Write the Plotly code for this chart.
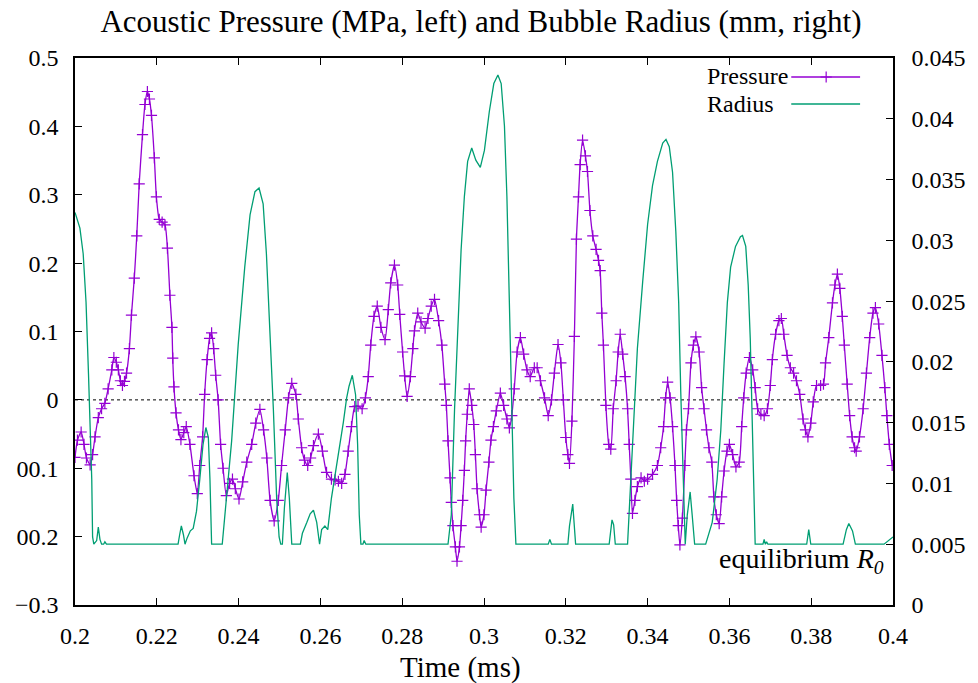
import plotly.graph_objects as go

# ---------------- data ----------------
p_time = [0.2000, 0.2006, 0.2015, 0.2022, 0.2028, 0.2037, 0.2043, 0.2049, 0.2057, 0.2065,
          0.2073, 0.2081, 0.2090, 0.2095, 0.2101, 0.2106, 0.2111, 0.2116, 0.2121, 0.2126,
          0.2133, 0.2138, 0.2145, 0.2151, 0.2157, 0.2165, 0.2171, 0.2177, 0.2182, 0.2187,
          0.2194, 0.2199, 0.2206, 0.2213, 0.2220, 0.2226, 0.2232, 0.2237, 0.2239, 0.2242,
          0.2247, 0.2253, 0.2259, 0.2266, 0.2272, 0.2281, 0.2291, 0.2299, 0.2305, 0.2312,
          0.2317, 0.2323, 0.2329, 0.2334, 0.2339, 0.2344, 0.2350, 0.2356, 0.2362, 0.2370,
          0.2378, 0.2385, 0.2392, 0.2401, 0.2410, 0.2420, 0.2432, 0.2442, 0.2452, 0.2461,
          0.2469, 0.2477, 0.2487, 0.2497, 0.2505, 0.2514, 0.2522, 0.2530, 0.2540, 0.2546,
          0.2554, 0.2561, 0.2569, 0.2576, 0.2583, 0.2595, 0.2605, 0.2615, 0.2627, 0.2636,
          0.2644, 0.2652, 0.2660, 0.2668, 0.2676, 0.2684, 0.2692, 0.2702, 0.2710, 0.2717,
          0.2723, 0.2731, 0.2739, 0.2748, 0.2758, 0.2766, 0.2772, 0.2781, 0.2789, 0.2794,
          0.2801, 0.2806, 0.2812, 0.2820, 0.2826, 0.2830, 0.2838, 0.2846, 0.2856, 0.2863,
          0.2871, 0.2879, 0.2889, 0.2897, 0.2904, 0.2908, 0.2912, 0.2917, 0.2920, 0.2924,
          0.2930, 0.2934, 0.2940, 0.2944, 0.2948, 0.2952, 0.2955, 0.2959, 0.2964, 0.2970,
          0.2975, 0.2979, 0.2983, 0.2989, 0.2993, 0.3000, 0.3005, 0.3012, 0.3017, 0.3023,
          0.3030, 0.3040, 0.3048, 0.3056, 0.3062, 0.3068, 0.3074, 0.3081, 0.3089, 0.3097,
          0.3105, 0.3113, 0.3123, 0.3130, 0.3138, 0.3148, 0.3157, 0.3165, 0.3172, 0.3181,
          0.3188, 0.3194, 0.3200, 0.3205, 0.3209, 0.3215, 0.3221, 0.3226, 0.3231, 0.3235,
          0.3241, 0.3248, 0.3253, 0.3259, 0.3266, 0.3274, 0.3280, 0.3284, 0.3288, 0.3292,
          0.3298, 0.3305, 0.3310, 0.3316, 0.3323, 0.3328, 0.3333, 0.3339, 0.3345, 0.3351,
          0.3355, 0.3359, 0.3363, 0.3369, 0.3375, 0.3384, 0.3392, 0.3400, 0.3412, 0.3424,
          0.3432, 0.3439, 0.3444, 0.3449, 0.3455, 0.3461, 0.3467, 0.3471, 0.3475, 0.3479,
          0.3485, 0.3491, 0.3495, 0.3500, 0.3506, 0.3512, 0.3518, 0.3526, 0.3532, 0.3538,
          0.3544, 0.3550, 0.3557, 0.3562, 0.3568, 0.3575, 0.3581, 0.3587, 0.3594, 0.3600,
          0.3608, 0.3616, 0.3624, 0.3630, 0.3635, 0.3641, 0.3649, 0.3657, 0.3663, 0.3669,
          0.3677, 0.3685, 0.3693, 0.3700, 0.3705, 0.3713, 0.3721, 0.3727, 0.3733, 0.3741,
          0.3749, 0.3757, 0.3764, 0.3772, 0.3780, 0.3786, 0.3792, 0.3799, 0.3805, 0.3813,
          0.3823, 0.3830, 0.3835, 0.3843, 0.3852, 0.3858, 0.3864, 0.3870, 0.3876, 0.3881,
          0.3888, 0.3894, 0.3900, 0.3906, 0.3910, 0.3918, 0.3927, 0.3935, 0.3943, 0.3951,
          0.3957, 0.3965, 0.3973, 0.3980, 0.3985, 0.3991, 0.3998]

pressure = [-0.084, -0.059, -0.047, -0.065, -0.085, -0.095, -0.080, -0.054, -0.026, -0.013,
            -0.005, 0.016, 0.044, 0.062, 0.055, 0.044, 0.028, 0.021, 0.027, 0.039,
            0.075, 0.124, 0.178, 0.240, 0.316, 0.388, 0.432, 0.451, 0.440, 0.416,
            0.354, 0.297, 0.264, 0.260, 0.256, 0.222, 0.153, 0.106, 0.061, 0.019,
            -0.019, -0.044, -0.058, -0.048, -0.039, -0.065, -0.111, -0.137, -0.096, -0.054,
            0.008, 0.059, 0.090, 0.098, 0.075, 0.036, 0.000, -0.065, -0.100, -0.140,
            -0.122, -0.116, -0.130, -0.145, -0.120, -0.091, -0.065, -0.034, -0.014, -0.044,
            -0.085, -0.147, -0.177, -0.147, -0.096, -0.044, 0.003, 0.024, 0.008, -0.028,
            -0.070, -0.088, -0.096, -0.085, -0.067, -0.050, -0.075, -0.106, -0.116, -0.117,
            -0.119, -0.122, -0.109, -0.075, -0.039, -0.010, -0.009, -0.013, 0.003, 0.034,
            0.080, 0.122, 0.137, 0.106, 0.088, 0.132, 0.171, 0.197, 0.168, 0.125,
            0.070, 0.035, 0.005, 0.034, 0.075, 0.101, 0.127, 0.114, 0.105, 0.119,
            0.137, 0.147, 0.116, 0.080, 0.023, -0.008, -0.060, -0.114, -0.150, -0.184,
            -0.215, -0.236, -0.215, -0.184, -0.147, -0.103, -0.060, -0.021, 0.016, -0.008,
            -0.036, -0.080, -0.130, -0.168, -0.186, -0.168, -0.132, -0.091, -0.059, -0.039,
            -0.016, 0.010, -0.008, -0.028, -0.041, -0.023, 0.016, 0.070, 0.091, 0.067,
            0.044, 0.034, 0.047, 0.047, 0.028, 0.003, -0.023, 0.000, 0.039, 0.081,
            0.054, 0.000, -0.055, -0.080, -0.093, -0.031, 0.093, 0.235, 0.297, 0.344,
            0.380, 0.357, 0.334, 0.277, 0.240, 0.220, 0.204, 0.189, 0.127, 0.080,
            -0.008, -0.065, -0.072, -0.013, 0.028, 0.070, 0.096, 0.067, 0.034, -0.013,
            -0.065, -0.116, -0.166, -0.147, -0.127, -0.114, -0.119, -0.116, -0.109, -0.096,
            -0.070, -0.039, 0.003, 0.026, 0.003, -0.039, -0.096, -0.147, -0.184, -0.212,
            -0.173, -0.096, -0.044, -0.013, 0.054, 0.080, 0.092, 0.070, 0.018, -0.013,
            -0.044, -0.070, -0.091, -0.142, -0.168, -0.181, -0.142, -0.104, -0.075, -0.065,
            -0.080, -0.098, -0.091, -0.039, 0.003, 0.039, 0.062, 0.044, 0.018, -0.013,
            -0.021, -0.023, -0.013, 0.021, 0.059, 0.096, 0.116, 0.119, 0.096, 0.065,
            0.047, 0.039, 0.028, 0.008, -0.028, -0.044, -0.054, -0.034, -0.003, 0.021,
            0.021, 0.023, 0.054, 0.091, 0.142, 0.168, 0.184, 0.163, 0.122, 0.080,
            0.023, -0.023, -0.054, -0.070, -0.075, -0.054, -0.013, 0.039, 0.091, 0.127,
            0.135, 0.111, 0.065, 0.018, -0.023, -0.065, -0.096]

r_time = [0.2000, 0.2012, 0.2020, 0.2027, 0.2033, 0.2037, 0.2041, 0.2043, 0.2046, 0.2053,
          0.2057, 0.2061, 0.2065, 0.2070, 0.2073, 0.2077, 0.2252, 0.2256, 0.2260, 0.2265,
          0.2269, 0.2274, 0.2282, 0.2289, 0.2297, 0.2305, 0.2313, 0.2320, 0.2326, 0.2330,
          0.2334, 0.2360, 0.2370, 0.2383, 0.2399, 0.2415, 0.2428, 0.2440, 0.2450, 0.2460,
          0.2468, 0.2477, 0.2485, 0.2493, 0.2499, 0.2503, 0.2507, 0.2512, 0.2519, 0.2524,
          0.2530, 0.2551, 0.2556, 0.2567, 0.2575, 0.2583, 0.2591, 0.2598, 0.2603, 0.2611,
          0.2618, 0.2627, 0.2644, 0.2656, 0.2664, 0.2670, 0.2678, 0.2686, 0.2691, 0.2695,
          0.2699, 0.2704, 0.2707, 0.2711, 0.2912, 0.2920, 0.2928, 0.2936, 0.2944, 0.2952,
          0.2960, 0.2970, 0.2980, 0.2991, 0.3001, 0.3013, 0.3024, 0.3034, 0.3042, 0.3050,
          0.3056, 0.3062, 0.3068, 0.3073, 0.3078, 0.3157, 0.3161, 0.3165, 0.3205, 0.3209,
          0.3217, 0.3224, 0.3306, 0.3310, 0.3313, 0.3317, 0.3321, 0.3351, 0.3359, 0.3367,
          0.3375, 0.3388, 0.3400, 0.3412, 0.3424, 0.3437, 0.3445, 0.3453, 0.3461, 0.3469,
          0.3476, 0.3481, 0.3487, 0.3492, 0.3497, 0.3504, 0.3509, 0.3515, 0.3542, 0.3550,
          0.3558, 0.3570, 0.3579, 0.3587, 0.3595, 0.3603, 0.3615, 0.3627, 0.3632, 0.3640,
          0.3646, 0.3651, 0.3655, 0.3659, 0.3663, 0.3682, 0.3685, 0.3688, 0.3691, 0.3694,
          0.3789, 0.3794, 0.3799, 0.3878, 0.3886, 0.3892, 0.3901, 0.3908, 0.3978, 0.4000]

radius = [0.0323, 0.0310, 0.0289, 0.0249, 0.0190, 0.0147, 0.0103, 0.0056, 0.0050, 0.0053,
          0.0064, 0.0054, 0.0050, 0.0050, 0.0052, 0.0050, 0.0050, 0.0058, 0.0065, 0.0058,
          0.0050, 0.0055, 0.0061, 0.0063, 0.0077, 0.0103, 0.0132, 0.0146, 0.0138, 0.0103,
          0.0050, 0.0050, 0.0088, 0.0135, 0.0214, 0.0278, 0.0321, 0.0340, 0.0343, 0.0330,
          0.0289, 0.0225, 0.0161, 0.0088, 0.0056, 0.0050, 0.0050, 0.0080, 0.0109, 0.0088,
          0.0050, 0.0050, 0.0059, 0.0068, 0.0075, 0.0078, 0.0068, 0.0050, 0.0062, 0.0065,
          0.0062, 0.0088, 0.0123, 0.0150, 0.0170, 0.0180, 0.0189, 0.0173, 0.0132, 0.0074,
          0.0050, 0.0050, 0.0053, 0.0050, 0.0050, 0.0074, 0.0161, 0.0234, 0.0292, 0.0336,
          0.0365, 0.0376, 0.0366, 0.0360, 0.0374, 0.0406, 0.0429, 0.0436, 0.0429, 0.0394,
          0.0336, 0.0249, 0.0161, 0.0088, 0.0050, 0.0050, 0.0054, 0.0050, 0.0050, 0.0065,
          0.0083, 0.0050, 0.0050, 0.0062, 0.0070, 0.0066, 0.0050, 0.0050, 0.0103, 0.0161,
          0.0211, 0.0266, 0.0313, 0.0345, 0.0365, 0.0380, 0.0383, 0.0377, 0.0356, 0.0307,
          0.0249, 0.0176, 0.0103, 0.0050, 0.0074, 0.0093, 0.0074, 0.0050, 0.0050, 0.0059,
          0.0068, 0.0103, 0.0144, 0.0199, 0.0249, 0.0278, 0.0295, 0.0303, 0.0304, 0.0295,
          0.0263, 0.0219, 0.0161, 0.0103, 0.0050, 0.0050, 0.0054, 0.0050, 0.0052, 0.0050,
          0.0050, 0.0062, 0.0050, 0.0050, 0.0062, 0.0067, 0.0061, 0.0050, 0.0050, 0.0056]

x_ticks = [0.2, 0.22, 0.24, 0.26, 0.28, 0.3, 0.32, 0.34, 0.36, 0.38, 0.4]
x_ticktext = ["0.2", "0.22", "0.24", "0.26", "0.28", "0.3", "0.32", "0.34", "0.36", "0.38", "0.4"]
y_ticks = [0.5, 0.4, 0.3, 0.2, 0.1, 0, -0.1, -0.2, -0.3]
y_ticktext = ["0.5", "0.4", "0.3", "0.2", "0.1", "0", "00.1", "00.2", "\u22120.3"]
y2_ticks = [0, 0.005, 0.01, 0.015, 0.02, 0.025, 0.03, 0.035, 0.04, 0.045]
y2_ticktext = ["0", "0.005", "0.01", "0.015", "0.02", "0.025", "0.03", "0.035", "0.04", "0.045"]

# ---------------- styling ----------------
W, H = 978, 683
L, R, T, B = 75, 83, 58, 78
PW, PH = W - L - R, H - T - B
PURPLE = "#9400D3"
GREEN = "#009E73"
FONT = "Liberation Serif, DejaVu Serif, Noto Serif, Times New Roman, serif"


def px(xp):
    return (xp - L) / PW


def py(yp):
    return (H - B - yp) / PH


fig = go.Figure()

fig.add_trace(go.Scatter(
    x=p_time, y=pressure, mode="lines+markers", name="Pressure",
    line=dict(color=PURPLE, width=1.3, shape="spline", smoothing=0.6),
    marker=dict(symbol="cross-thin", size=8, line=dict(color=PURPLE, width=1.2)),
    showlegend=False, yaxis="y"))

fig.add_trace(go.Scatter(
    x=r_time, y=radius, mode="lines", name="Radius",
    line=dict(color=GREEN, width=1.3),
    showlegend=False, yaxis="y2"))

# legend samples drawn on an overlay axis in paper-like units
fig.add_trace(go.Scatter(
    x=[px(793), px(862)], y=[py(77)] * 2, mode="lines",
    line=dict(color=PURPLE, width=1.3),
    xaxis="x3", yaxis="y3", showlegend=False, hoverinfo="skip"))
fig.add_trace(go.Scatter(
    x=[px(828)], y=[py(77)], mode="markers",
    marker=dict(symbol="cross-thin", size=8, color=PURPLE,
                line=dict(color=PURPLE, width=1.2)),
    xaxis="x3", yaxis="y3", showlegend=False, hoverinfo="skip"))
fig.add_trace(go.Scatter(
    x=[px(793), px(862)], y=[py(104)] * 2, mode="lines",
    line=dict(color=GREEN, width=1.3),
    xaxis="x3", yaxis="y3", showlegend=False, hoverinfo="skip"))

axis_common = dict(
    showgrid=False, zeroline=False, showline=True, linecolor="black", linewidth=1.5,
    ticks="inside", ticklen=7, tickwidth=1, tickcolor="black",
    tickfont=dict(family=FONT, size=24, color="black"),
)

fig.update_layout(
    width=W, height=H,
    margin=dict(l=L, r=R, t=T, b=B, pad=0),
    paper_bgcolor="white", plot_bgcolor="white",
    font=dict(family=FONT, color="black"),
    title=dict(text="Acoustic Pressure (MPa, left) and Bubble Radius (mm, right)",
               x=481 / W, xanchor="center", y=1 - 21 / H, yanchor="middle",
               font=dict(family=FONT, size=31, color="black")),
    xaxis=dict(range=[0.2, 0.4], tickvals=x_ticks, ticktext=x_ticktext,
               mirror="ticks", ticklabelstandoff=8, **axis_common),
    yaxis=dict(range=[-0.3, 0.5], tickvals=y_ticks, ticktext=y_ticktext,
               ticklabelstandoff=10, **axis_common),
    yaxis2=dict(range=[0, 0.045], tickvals=y2_ticks, ticktext=y2_ticktext,
                overlaying="y", side="right", ticklabelstandoff=12, **axis_common),
    xaxis3=dict(range=[0, 1], domain=[0, 1], overlaying="x", visible=False,
                fixedrange=True),
    yaxis3=dict(range=[0, 1], domain=[0, 1], overlaying="y", visible=False,
                fixedrange=True),
    showlegend=False,
)

# dotted zero line of the pressure axis
fig.add_shape(type="line", xref="paper", x0=0, x1=1, yref="y", y0=0, y1=0,
              line=dict(color="black", width=1, dash="dot"), layer="below")

annots = [
    ("Time (ms)", 461, 668, "center", 29),
    ("Pressure", 707, 76, "left", 24),
    ("Radius", 707, 104, "left", 24),
    ("equilibrium <i>R<sub>0</sub></i>", 888, 560, "right", 28),
]
for text, xp_, yp_, anchor, size in annots:
    fig.add_annotation(xref="paper", yref="paper", showarrow=False,
                       text=text, x=px(xp_), y=py(yp_), xanchor=anchor, yanchor="middle",
                       font=dict(family=FONT, color="black", size=size))

fig.write_html("out.html")
